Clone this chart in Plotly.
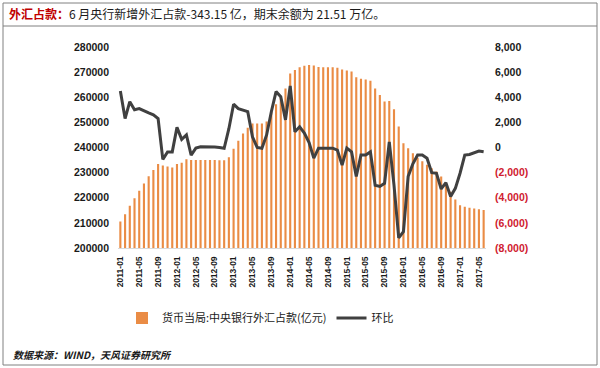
import plotly.graph_objects as go

# ---------------- data ----------------
months = [f"{y}-{m:02d}" for y in range(2011, 2018) for m in range(1, 13)][:78]  # 2011-01 .. 2017-06
tick_labels = months[::4]

# 货币当局:中央银行外汇占款(亿元)
fx_balance = [
    210500, 213400, 216800, 219800, 222800, 225700, 228600, 231000, 233400, 232800, 232400, 232000,  # 2011
    233400, 233900, 235300, 235000, 235000, 235000, 235000, 235000, 235000, 234900, 234900, 236100,  # 2012
    239500, 242700, 245600, 247900, 249600, 249600, 249600, 250300, 254200, 257200, 260500, 263500,  # 2013
    269500, 270800, 271900, 272500, 272800, 272600, 272000, 271900, 271900, 271900, 271700, 271000,  # 2014
    270600, 270200, 268000, 267400, 267100, 266600, 263500, 260900, 258300, 258500, 255200, 248400,  # 2015
    241700, 239700, 237700, 235900, 234500, 233100, 231700, 230400, 228500, 225900, 222400, 219300,  # 2016
    217000, 216400, 216000, 215700, 215400, 215100,                                                  # 2017
]

# 环比
mom_change = [
    4500, 2300, 3650, 3000, 3100, 2900, 2750, 2600, 2300, -950, -350, -350,      # 2011
    1600, 650, 1000, -600, -50, 50, 60, 60, 40, 0, -60, 1500,                     # 2012
    3450, 3100, 2950, 2850, 850, 0, -60, 1000, 2850, 4450, 4050, 2200,            # 2013
    4900, 1250, 1650, 1150, 400, -850, -50, -50, -100, -50, -200, -1400,          # 2014
    -50, -350, -2300, -600, -600, -350, -3000, -3100, -2850, 450, -3000, -7200,   # 2015
    -6700, -2300, -1300, -600, -600, -850, -2000, -2050, -3300, -2800, -3900, -3250,  # 2016
    -2050, -600, -550, -400, -280, -343,                                          # 2017
]

left_ticks = list(range(200000, 280001, 10000))
right_ticks = list(range(-8000, 8001, 2000))

# ---------------- layout helpers ----------------
W, H = 600, 368
PL, PR, PT, PB = 118, 486, 47, 248  # plot area in pixels


def px(x):
    return (x - PL) / (PR - PL)


def py(y):
    return (PB - y) / (PB - PT)


FONT = "Liberation Sans, Arial, Noto Sans CJK SC, sans-serif"
CJK = "Noto Sans CJK SC, Liberation Sans, sans-serif"
RED = "#C00000"
BAR = "#EA8C45"
LINE = "#404040"

right_text = []
for v in right_ticks:
    if v < 0:
        right_text.append(f"<span style='color:#D02030'>({abs(v):,})</span>")
    else:
        right_text.append(f"{v:,}")

fig = go.Figure()
fig.add_trace(go.Bar(
    x=months, y=fx_balance, name="货币当局:中央银行外汇占款(亿元)",
    marker=dict(color=BAR, line=dict(width=0)),
))
fig.add_trace(go.Scatter(
    x=months, y=mom_change, name="环比", yaxis="y2", mode="lines",
    line=dict(color=LINE, width=3),
))

fig.update_layout(
    width=W, height=H,
    margin=dict(l=PL, r=W - PR, t=PT, b=H - PB, pad=0),
    paper_bgcolor="white", plot_bgcolor="white",
    bargap=0.55,
    font=dict(family=FONT, color="#1a1a1a"),
    xaxis=dict(
        type="category", tickmode="array", tickvals=tick_labels, ticktext=tick_labels,
        tickangle=-90, tickfont=dict(size=8.5, weight="bold", family=FONT, color="#1a1a1a"),
        showgrid=False, zeroline=False, showline=True, linecolor="#D9D9D9", linewidth=1,
        ticks="", ticklabelstandoff=4,
    ),
    yaxis=dict(
        range=[200000, 280000], tickvals=left_ticks, ticktext=[str(v) for v in left_ticks],
        tickfont=dict(size=10.5, weight="bold", family=FONT, color="#1a1a1a"),
        showgrid=False, zeroline=False, showline=False, ticks="", ticklabelstandoff=8,
    ),
    yaxis2=dict(
        range=[-8000, 8000], tickvals=right_ticks, ticktext=right_text, overlaying="y", side="right",
        tickfont=dict(size=10.5, weight="bold", family=FONT, color="#1a1a1a"),
        showgrid=False, zeroline=False, showline=False, ticks="", ticklabelstandoff=8,
    ),
    showlegend=True,
    legend=dict(
        orientation="h", x=px(122), xanchor="left", y=py(318), yanchor="middle",
        font=dict(size=11, family=CJK, color="#1a1a1a"), bgcolor="rgba(0,0,0,0)",
        itemwidth=30, tracegroupgap=0,
    ),
    shapes=[
        dict(type="rect", xref="paper", yref="paper", x0=px(3), x1=px(597), y0=py(365), y1=py(3),
             line=dict(color="#808080", width=1), fillcolor="rgba(0,0,0,0)", layer="below"),
        dict(type="line", xref="paper", yref="paper", x0=px(3), x1=px(597), y0=py(26), y1=py(26),
             line=dict(color="#808080", width=1)),
    ],
    annotations=[
        dict(xref="paper", yref="paper", x=px(7), y=py(14), xanchor="left", yanchor="middle",
             showarrow=False, align="left",
             text=f"<span style='color:{RED}'><b>外汇占款：</b></span>6 月央行新增外汇占款-343.15 亿，期末余额为 21.51 万亿。",
             font=dict(size=12, family=CJK, color="#1a1a1a")),
        dict(xref="paper", yref="paper", x=px(11), y=py(354), xanchor="left", yanchor="middle",
             showarrow=False, align="left",
             text="<b><i>数据来源：WIND，天风证券研究所</i></b>",
             font=dict(size=10, family=CJK, color="#1a1a1a")),
    ],
)

fig.write_html(
    "out.html",
    config={"displayModeBar": False},
    post_script="document.body.style.margin='0';document.body.style.overflow='hidden';",
)
